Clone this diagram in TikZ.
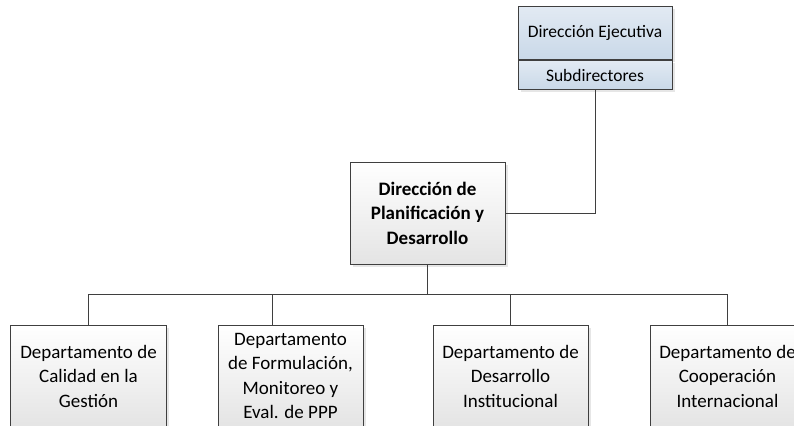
\documentclass[tikz,border=0pt]{standalone}
\usepackage{fontspec}
\setmainfont{Carlito}
\usetikzlibrary{shadows}

\definecolor{borde}{HTML}{3F3F3F}
\definecolor{azulclaro}{HTML}{E2EAF3}
\definecolor{azul}{HTML}{C9D8E8}
\definecolor{grisclaro}{HTML}{E4E4E4}

\tikzset{
  caja/.style={draw=borde, line width=1bp, align=center, inner sep=2bp,
    top color=white, bottom color=grisclaro,
    drop shadow={shadow xshift=2.5bp, shadow yshift=-2.5bp, opacity=.2},
    font=\fontsize{19bp}{24.5bp}\selectfont},
  cajaazul/.style={caja, top color=azulclaro, bottom color=azul,
    font=\fontsize{17.5bp}{24.5bp}\selectfont},
  depto/.style={caja, minimum height=102bp},
  conector/.style={draw=borde, line width=1bp}
}

\begin{document}
\begin{tikzpicture}[x=1bp, y=-1bp]
  \useasboundingbox (0,0) rectangle (794,425);
  \clip (0,0) rectangle (794,425);

  % direccion ejecutiva
  \node[cajaazul, minimum width=154bp, minimum height=53bp, anchor=north] (ejec) at (595,6) {Dirección Ejecutiva};
  \node[cajaazul, minimum width=154bp, minimum height=29bp, anchor=north] (subd) at (ejec.south) {Subdirectores};

  % direccion de planificacion
  \node[depto, minimum width=155bp, font=\fontsize{19bp}{24.5bp}\selectfont\bfseries] (dpd) at (427.5,213)
    {Dirección de\\Planificación y\\Desarrollo};

  % departamentos
  \node[depto, minimum width=155bp] (cal) at (88.5,376) {Departamento de\\Calidad en la\\Gestión};
  \node[depto, minimum width=145bp] (form) at (290.5,376) {Departamento\\de Formulación,\\Monitoreo y\\Eval. de PPP};
  \node[depto, minimum width=155bp] (inst) at (510.5,376) {Departamento de\\Desarrollo\\Institucional};
  \node[depto, minimum width=155bp] (coop) at (727.5,376) {Departamento de\\Cooperación\\Internacional};

  % conectores
  \coordinate (bus) at (427.5,294);
  \draw[conector] (subd.south) |- (dpd.east);
  \draw[conector] (dpd.south) -- (bus);
  \foreach \d in {cal,inst,coop}
    \draw[conector] (bus) -| (\d.north);
  \draw[conector] (bus) -| ([xshift=-18.5bp]form.north);
\end{tikzpicture}
\end{document}
